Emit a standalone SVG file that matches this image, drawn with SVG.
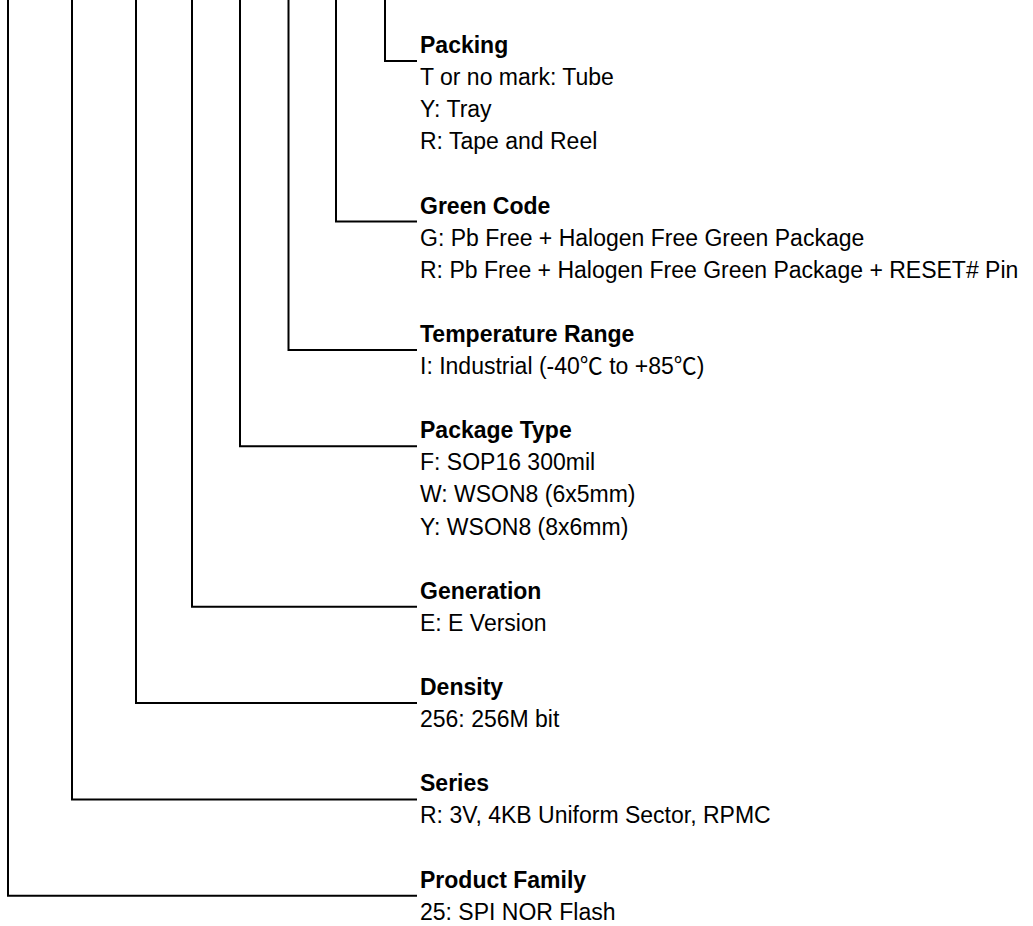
<svg xmlns="http://www.w3.org/2000/svg" width="1033" height="926" viewBox="0 0 1033 926">
<style>
.t{font-family:"Liberation Sans",Arial,"Noto Sans CJK SC",sans-serif;font-size:23px;fill:#000}
.b{font-weight:bold}
.c{fill:none;stroke:#000;stroke-width:2}
</style>
<rect width="1033" height="926" fill="#fff"/>
<g id="connectors">
<path class="c" d="M385,0V61H417"/>
<path class="c" d="M336,0V221.5H417"/>
<path class="c" d="M288.5,0V350H417"/>
<path class="c" d="M240,0V446.2H417"/>
<path class="c" d="M192,0V606.7H417"/>
<path class="c" d="M136,0V703H417"/>
<path class="c" d="M72,0V799.4H417"/>
<path class="c" d="M8,0V895.7H417"/>
</g>
<g id="packing" class="t">
<text x="420" y="53" class="b">Packing</text>
<text x="420" y="85.1">T or no mark: Tube</text>
<text x="420" y="117.2">Y: Tray</text>
<text x="420" y="149.3">R: Tape and Reel</text>
</g>
<g id="green-code" class="t">
<text x="420" y="213.5" class="b">Green Code</text>
<text x="420" y="245.6">G: Pb Free + Halogen Free Green Package</text>
<text x="420" y="277.7">R: Pb Free + Halogen Free Green Package + RESET# Pin</text>
</g>
<g id="temperature-range" class="t">
<text x="420" y="341.9" class="b">Temperature Range</text>
<text x="420" y="374">I: Industrial (-40℃ to +85℃)</text>
</g>
<g id="package-type" class="t">
<text x="420" y="438.2" class="b">Package Type</text>
<text x="420" y="470.3">F: SOP16 300mil</text>
<text x="420" y="502.4">W: WSON8 (6x5mm)</text>
<text x="420" y="534.5">Y: WSON8 (8x6mm)</text>
</g>
<g id="generation" class="t">
<text x="420" y="598.7" class="b">Generation</text>
<text x="420" y="630.8">E: E Version</text>
</g>
<g id="density" class="t">
<text x="420" y="695" class="b">Density</text>
<text x="420" y="727.1">256: 256M bit</text>
</g>
<g id="series" class="t">
<text x="420" y="791.3" class="b">Series</text>
<text x="420" y="823.4">R: 3V, 4KB Uniform Sector, RPMC</text>
</g>
<g id="product-family" class="t">
<text x="420" y="887.6" class="b">Product Family</text>
<text x="420" y="919.7">25: SPI NOR Flash</text>
</g>
</svg>
